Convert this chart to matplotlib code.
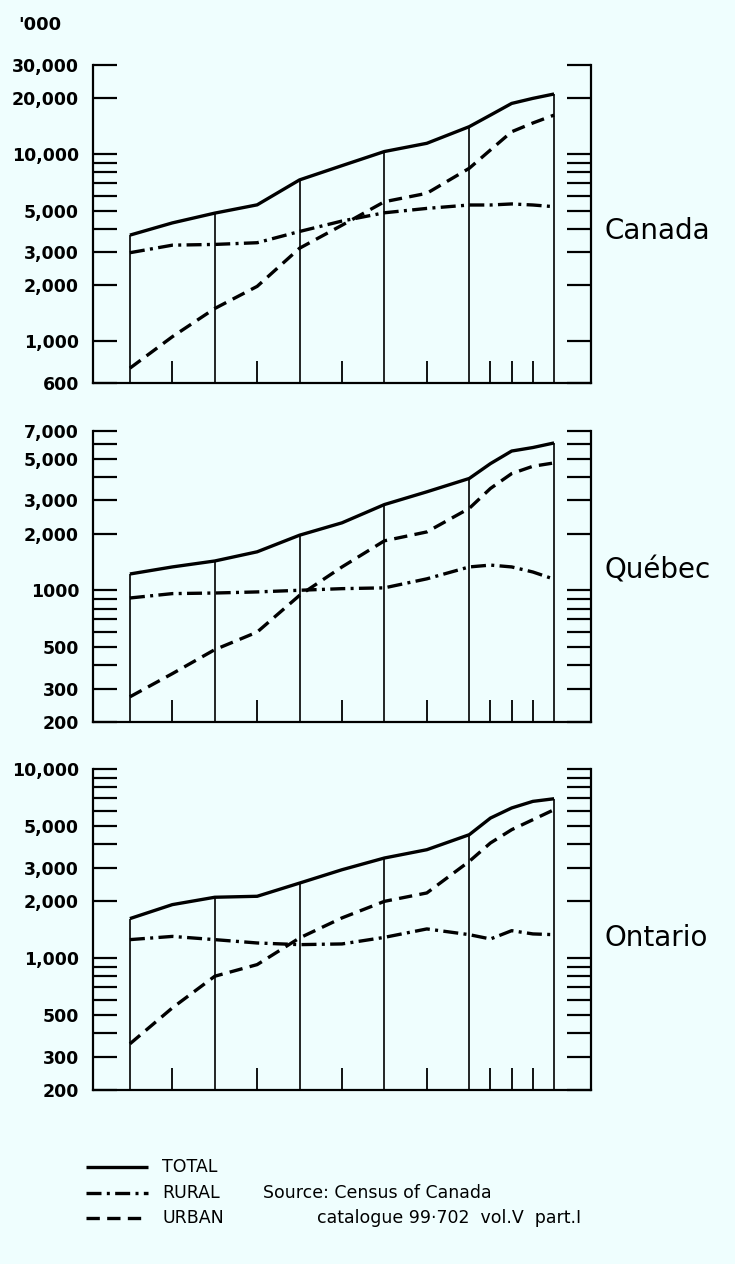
import matplotlib
matplotlib.use("Agg")
import matplotlib.pyplot as plt
from matplotlib.lines import Line2D
from matplotlib.ticker import FixedLocator, FixedFormatter, NullFormatter

W, H = 735, 1264
BG = '#effefe'

# census years and populations ('000)
years = [1871, 1881, 1891, 1901, 1911, 1921, 1931, 1941, 1951, 1956, 1961, 1966, 1971]
long_years = [1871, 1891, 1911, 1931, 1951, 1971]
short_years = [1881, 1901, 1921, 1941, 1956, 1961, 1966]

canada_total = [3700, 4300, 4850, 5370, 7300, 8700, 10350, 11450, 14050, 16200, 18700, 19900, 21000]
canada_rural = [2980, 3270, 3300, 3370, 3870, 4400, 4870, 5140, 5360, 5360, 5430, 5360, 5250]
canada_urban = [720, 1060, 1500, 1970, 3150, 4180, 5580, 6190, 8420, 10550, 13200, 14700, 16200]

quebec_total = [1220, 1330, 1430, 1600, 1960, 2280, 2850, 3330, 3920, 4700, 5480, 5720, 6050]
quebec_rural = [910, 960, 967, 980, 1000, 1020, 1030, 1150, 1330, 1360, 1330, 1250, 1145]
quebec_urban = [272, 361, 484, 600, 940, 1330, 1830, 2040, 2720, 3470, 4160, 4550, 4740]

ontario_total = [1615, 1915, 2095, 2120, 2490, 2930, 3380, 3740, 4490, 5500, 6220, 6740, 6960]
ontario_rural = [1250, 1300, 1250, 1200, 1176, 1186, 1285, 1424, 1328, 1260, 1394, 1340, 1328]
ontario_urban = [351, 544, 800, 922, 1276, 1629, 1993, 2208, 3244, 4060, 4773, 5392, 6090]

canada_major = [600, 1000, 2000, 3000, 5000, 10000, 20000, 30000]
canada_labels = ['600', '1,000', '2,000', '3,000', '5,000', '10,000', '20,000', '30,000']
canada_minor = [4000, 6000, 7000, 8000, 9000]

quebec_major = [200, 300, 500, 1000, 2000, 3000, 5000, 7000]
quebec_labels = ['200', '300', '500', '1000', '2,000', '3,000', '5,000', '7,000']
quebec_minor = [400, 600, 700, 800, 900, 4000, 6000]

ontario_major = [200, 300, 500, 1000, 2000, 3000, 5000, 10000]
ontario_labels = ['200', '300', '500', '1,000', '2,000', '3,000', '5,000', '10,000']
ontario_minor = [400, 600, 700, 800, 900, 4000, 6000, 7000, 8000, 9000]

TOTAL_STYLE = dict(color='black', lw=2.4, linestyle='-', solid_capstyle='butt')
RURAL_STYLE = dict(color='black', lw=2.4, linestyle=(0, (4.5, 1.6, 0.9, 1.6)))
URBAN_STYLE = dict(color='black', lw=2.4, linestyle=(0, (4.0, 2.2)))


def px(x, y):
    return x / W, 1 - y / H


panels = [
    ('Canada', canada_total, canada_rural, canada_urban, canada_major, canada_labels,
     canada_minor, 65, 383, 231),
    ('Québec', quebec_total, quebec_rural, quebec_urban, quebec_major, quebec_labels,
     quebec_minor, 431, 722, 570),
    ('Ontario', ontario_total, ontario_rural, ontario_urban, ontario_major, ontario_labels,
     ontario_minor, 769, 1090, 938),
]

fig = plt.figure(figsize=(W / 100, H / 100), dpi=100)
fig.patch.set_facecolor(BG)

for name, total, rural, urban, major, labels, minor, top, bot, label_y in panels:
    ax = fig.add_axes([93 / W, 1 - bot / H, (591 - 93) / W, (bot - top) / H])
    ax.set_facecolor(BG)
    ax.set_yscale('log')
    ax.set_ylim(major[0], major[-1])
    ax.set_xlim(1862.3, 1979.7)

    ax.plot(years, total, **TOTAL_STYLE)
    ax.plot(years, rural, **RURAL_STYLE)
    ax.plot(years, urban, **URBAN_STYLE)

    # long vertical lines rise to the total curve
    tops = [total[years.index(y)] for y in long_years]
    ax.vlines(long_years, major[0], tops, color='black', lw=1.2)

    ax.yaxis.set_major_locator(FixedLocator(major))
    ax.yaxis.set_major_formatter(FixedFormatter(labels))
    ax.yaxis.set_minor_locator(FixedLocator(minor))
    ax.yaxis.set_minor_formatter(NullFormatter())
    ax.tick_params(axis='y', which='both', direction='in', length=17, width=1.6,
                   left=True, right=True, labelleft=True, labelright=False, pad=10)
    for t in ax.get_yticklabels():
        t.set_fontweight('bold')
        t.set_fontsize(12.5)

    ax.set_xticks(short_years)
    ax.tick_params(axis='x', direction='in', length=16, width=1.3,
                   labelbottom=False, top=False)

    ax.spines['top'].set_visible(False)
    for s in ('left', 'right', 'bottom'):
        ax.spines[s].set_linewidth(1.6)

    fig.text(*px(604, label_y), name, fontsize=20, ha='left', va='center')

fig.text(*px(18, 25), "'000", fontsize=13, fontweight='bold', ha='left', va='center')

# legend
for y, style, txt in [(1167, TOTAL_STYLE, 'TOTAL'), (1193, RURAL_STYLE, 'RURAL'),
                      (1218, URBAN_STYLE, 'URBAN')]:
    x0, y0 = px(86, y)
    x1, _ = px(148, y)
    fig.add_artist(Line2D([x0, x1], [y0, y0], transform=fig.transFigure, **style))
    fig.text(*px(162, y), txt, fontsize=12.5, ha='left', va='center')

fig.text(*px(263, 1193), 'Source: Census of Canada', fontsize=12.5, ha='left', va='center')
fig.text(*px(317, 1218), 'catalogue 99·702  vol.V  part.I', fontsize=12.5, ha='left', va='center')

fig.savefig('out.png', dpi=100, facecolor=BG)
